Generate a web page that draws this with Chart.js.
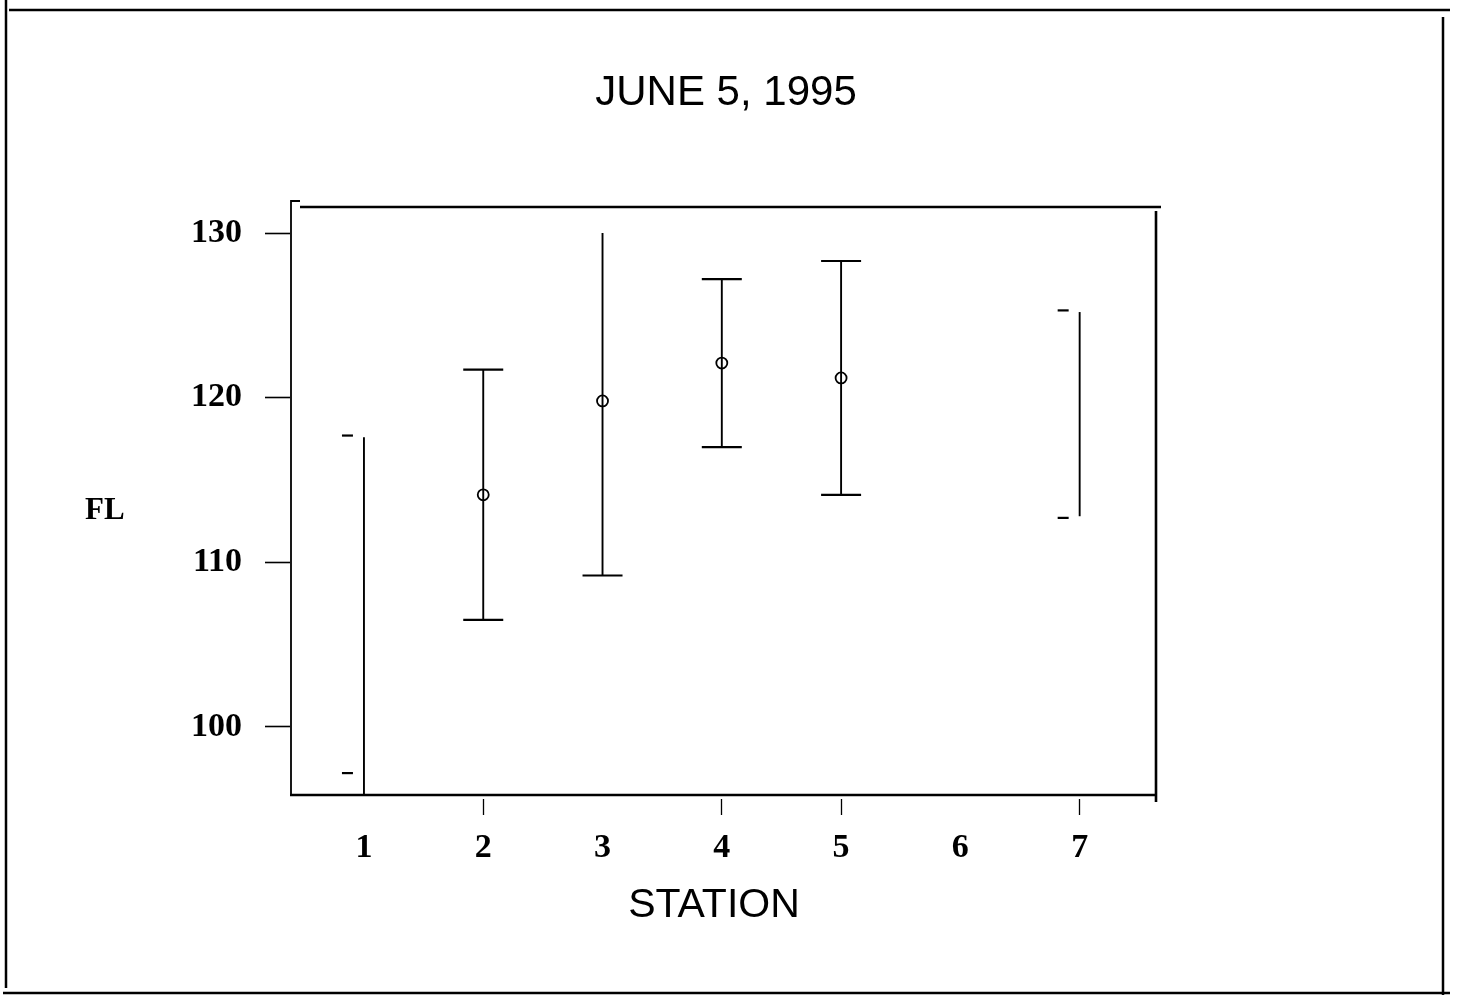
<!DOCTYPE html>
<html>
<head>
<meta charset="utf-8">
<script src="https://cdn.jsdelivr.net/npm/chart.js@4.4.0/dist/chart.umd.min.js"></script>
<style>
    body { margin: 0; background: #fff; }
    canvas { display: block; }
</style>
</head>
<body>
<canvas id="fig" width="1457" height="995"></canvas>
<script>
'use strict';
// values
const stations = [1, 2, 3, 4, 5, 6, 7];
const lowVals  = [95.9, 106.5, 109.2, 117.0, 114.1, null, 112.8];
const highVals = [117.6, 121.7, 130.0, 127.2, 128.3, null, 125.2];
const meanVals = [null, 114.1, 119.8, 122.1, 121.2, null, null];
const capLow   = [97.2, 106.5, 109.2, 117.0, 114.1, null, 112.7];
const capHigh  = [117.7, 121.7, null, 127.2, 128.3, null, 125.3];
const stubCaps = [1, 7];           // stations whose caps are short dashes off to the left
const yTicks = [100, 110, 120, 130];
const markedTicks = [2, 4, 5, 7];  // x ticks that have a tick mark

const serifBold = { family: 'Liberation Serif', size: 34, weight: 'bold' };

// outer page frame + plot box
const frame = {
    id: 'frame',
    beforeDraw(chart) {
        const { ctx, chartArea: a } = chart;
        ctx.save();
        ctx.fillStyle = '#fff';
        ctx.fillRect(0, 0, chart.width, chart.height);
        ctx.strokeStyle = '#000';
        ctx.lineWidth = 2.5;
        ctx.beginPath();
        ctx.moveTo(6, 0); ctx.lineTo(6, 988);
        ctx.moveTo(9, 10); ctx.lineTo(1450, 10);
        ctx.moveTo(1443, 17); ctx.lineTo(1443, 995);
        ctx.moveTo(3, 993); ctx.lineTo(1450, 993);
        ctx.stroke();

        // plot box
        ctx.lineWidth = 2.6;
        ctx.beginPath();
        ctx.moveTo(a.left + 10, a.top); ctx.lineTo(a.right + 5, a.top);
        ctx.moveTo(a.right, a.top + 4); ctx.lineTo(a.right, a.bottom + 7);
        ctx.moveTo(a.left, a.bottom); ctx.lineTo(a.right, a.bottom);
        ctx.stroke();
        ctx.lineWidth = 1.8;
        ctx.beginPath();
        ctx.moveTo(a.left + 10, a.top - 6); ctx.lineTo(a.left + 1, a.top - 6);
        ctx.lineTo(a.left + 1, a.bottom);
        ctx.stroke();
        ctx.restore();
    }
};

// vertical bars with caps
const whiskers = {
    id: 'whiskers',
    beforeDatasetsDraw(chart) {
        const { ctx, scales: { x, y } } = chart;
        ctx.save();
        ctx.strokeStyle = '#000';
        stations.forEach((s, i) => {
            if (lowVals[i] == null) return;
            const px = x.getPixelForValue(s);
            ctx.lineWidth = 1.9;
            ctx.beginPath();
            ctx.moveTo(px, y.getPixelForValue(highVals[i]));
            ctx.lineTo(px, y.getPixelForValue(lowVals[i]));
            ctx.stroke();

            ctx.lineWidth = 2.2;
            [capLow[i], capHigh[i]].forEach(v => {
                if (v == null) return;
                const py = y.getPixelForValue(v);
                ctx.beginPath();
                if (stubCaps.includes(s)) {
                    ctx.moveTo(px - 22, py); ctx.lineTo(px - 11, py);
                } else {
                    ctx.moveTo(px - 20, py); ctx.lineTo(px + 20, py);
                }
                ctx.stroke();
            });
        });
        ctx.restore();
    }
};

// title and axis names
const texts = {
    id: 'texts',
    afterDraw(chart) {
        const { ctx } = chart;
        ctx.save();
        ctx.fillStyle = '#000';
        ctx.textBaseline = 'alphabetic';
        ctx.textAlign = 'center';
        ctx.font = '42px "Liberation Sans"';
        ctx.fillText('JUNE 5, 1995', 726, 105);
        ctx.font = '41px "Liberation Sans"';
        ctx.fillText('STATION', 714, 917);
        ctx.textAlign = 'left';
        ctx.font = 'bold 31px "Liberation Serif"';
        ctx.fillText('FL', 85, 519);
        ctx.restore();
    }
};

new Chart(document.getElementById('fig'), {
    type: 'scatter',
    data: {
        datasets: [{
            data: stations.map((s, i) => ({ x: s, y: meanVals[i] })).filter(p => p.y != null),
            pointRadius: 5.5,
            pointHoverRadius: 5.5,
            pointBorderWidth: 1.8,
            borderColor: '#000',
            backgroundColor: 'rgba(0,0,0,0)'
        }]
    },
    options: {
        responsive: false,
        animation: false,
        events: [],
        layout: { padding: { left: 0, top: 207, right: 301, bottom: 0 } },
        plugins: {
            legend: { display: false },
            tooltip: { enabled: false }
        },
        scales: {
            x: {
                type: 'linear',
                min: 0.38,
                max: 7.64,
                afterFit(s) { s.height = 200; },
                afterBuildTicks(s) { s.ticks = stations.map(v => ({ value: v })); },
                border: { display: false },
                grid: {
                    drawOnChartArea: false,
                    tickLength: 20,
                    tickWidth: 1.3,
                    tickColor: c => (c.tick && markedTicks.includes(c.tick.value)) ? '#000' : 'rgba(0,0,0,0)',
                    tickBorderDash: [0, 4, 16, 60]
                },
                ticks: { color: '#000', font: serifBold, padding: 13 }
            },
            y: {
                min: 95.87,
                max: 131.58,
                afterFit(s) { s.width = 290; },
                afterBuildTicks(s) { s.ticks = yTicks.map(v => ({ value: v })); },
                border: { display: false },
                grid: {
                    drawOnChartArea: false,
                    tickLength: 25,
                    tickWidth: 1.6,
                    tickColor: '#000'
                },
                ticks: { color: '#000', font: serifBold, padding: 23 }
            }
        }
    },
    plugins: [frame, whiskers, texts]
});
</script>
</body>
</html>
